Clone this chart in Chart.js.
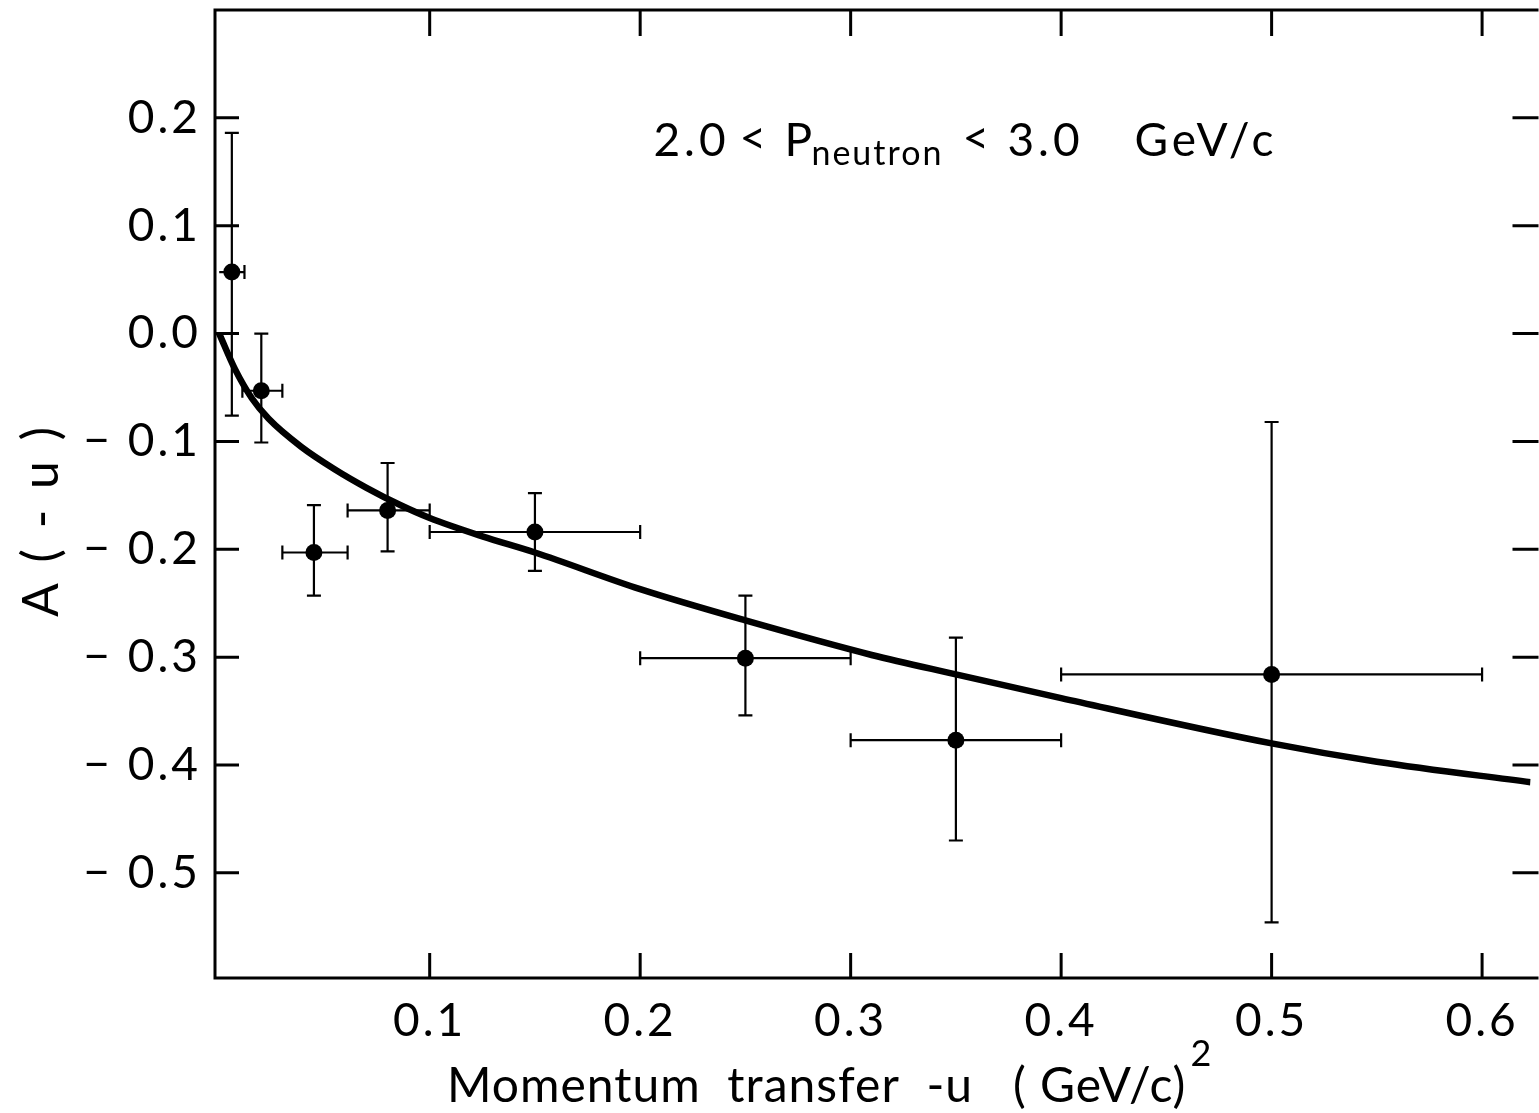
<!DOCTYPE html>
<html>
<head>
<meta charset="utf-8">
<script src="https://cdn.jsdelivr.net/npm/chart.js@4.4.0/dist/chart.umd.min.js"></script>
<style>
  html, body { margin: 0; padding: 0; background: #fff; overflow: hidden; }
  #wrap { width: 1539px; height: 1113px; }
</style>
</head>
<body>
<div id="wrap"><canvas id="myChart"></canvas></div>
<script>
// tick labels
const xTicks = [0.1, 0.2, 0.3, 0.4, 0.5, 0.6];
const yTicks = [0.2, 0.1, 0.0, -0.1, -0.2, -0.3, -0.4, -0.5];

// measured points with error bars
const uVals  = [0.006, 0.020, 0.045, 0.080, 0.150, 0.250, 0.350, 0.500];
const aVals  = [0.057, -0.053, -0.203, -0.164, -0.184, -0.301, -0.377, -0.316];
const uLow   = [0.000, 0.011, 0.030, 0.061, 0.100, 0.200, 0.300, 0.400];
const uHigh  = [0.012, 0.030, 0.061, 0.100, 0.200, 0.300, 0.400, 0.600];
const aLow   = [-0.076, -0.101, -0.243, -0.202, -0.220, -0.354, -0.470, -0.546];
const aHigh  = [0.186, 0.000, -0.159, -0.120, -0.148, -0.243, -0.282, -0.082];

// fitted curve
const fitU = [0, 0.0075, 0.0155, 0.0235, 0.039, 0.055, 0.070, 0.086, 0.100, 0.125, 0.150, 0.200, 0.250, 0.310, 0.350, 0.400, 0.500, 0.550, 0.623];
const fitA = [0, -0.033, -0.060, -0.079, -0.105, -0.126, -0.143, -0.159, -0.171, -0.188, -0.203, -0.237, -0.266, -0.298, -0.316, -0.338, -0.380, -0.397, -0.416];

const FONT = "Lato, 'DejaVu Sans', sans-serif";

function fmtY(v) {
  if (Math.abs(v) < 1e-9) return "0.0";
  if (v < 0) return "\u2212 " + Math.abs(v).toFixed(1);
  return v.toFixed(1);
}

const framePlugin = {
  id: 'frame',
  beforeUpdate(chart) {
    chart.ctx.letterSpacing = '3px';
  },
  beforeDatasetsDraw(chart) {
    const ctx = chart.ctx;
    const xs = chart.scales.x, ys = chart.scales.y;
    ctx.save();
    ctx.strokeStyle = '#000';
    ctx.lineWidth = 2.2;
    for (let i = 0; i < uVals.length; i++) {
      const px = xs.getPixelForValue(uVals[i]);
      const py = ys.getPixelForValue(aVals[i]);
      const x0 = xs.getPixelForValue(uLow[i]), x1 = xs.getPixelForValue(uHigh[i]);
      const y0 = ys.getPixelForValue(aLow[i]), y1 = ys.getPixelForValue(aHigh[i]);
      ctx.beginPath();
      ctx.moveTo(x0, py); ctx.lineTo(x1, py);
      ctx.moveTo(px, y0); ctx.lineTo(px, y1);
      // caps
      ctx.moveTo(px - 7, y0); ctx.lineTo(px + 7, y0);
      ctx.moveTo(px - 7, y1); ctx.lineTo(px + 7, y1);
      if (uLow[i] > 0) { ctx.moveTo(x0, py - 7); ctx.lineTo(x0, py + 7); }
      ctx.moveTo(x1, py - 7); ctx.lineTo(x1, py + 7);
      ctx.stroke();
    }
    ctx.restore();
  },
  afterDraw(chart) {
    const ctx = chart.ctx;
    const a = chart.chartArea;
    const xs = chart.scales.x, ys = chart.scales.y;
    ctx.save();
    ctx.strokeStyle = '#000';
    ctx.lineWidth = 3;
    ctx.beginPath();
    ctx.moveTo(a.right + 8, a.top); ctx.lineTo(a.left, a.top);
    ctx.lineTo(a.left, a.bottom); ctx.lineTo(a.right + 8, a.bottom);
    ctx.stroke();
    // inward tick marks on all four sides
    ctx.beginPath();
    xTicks.forEach(v => {
      const px = xs.getPixelForValue(v);
      ctx.moveTo(px, a.top); ctx.lineTo(px, a.top + 26);
      ctx.moveTo(px, a.bottom); ctx.lineTo(px, a.bottom - 25);
    });
    yTicks.forEach(v => {
      const py = ys.getPixelForValue(v);
      ctx.moveTo(a.left, py); ctx.lineTo(a.left + 24, py);
      ctx.moveTo(a.right + 8, py); ctx.lineTo(a.right - 18, py);
    });
    ctx.stroke();

    ctx.fillStyle = '#000';
    ctx.textBaseline = 'alphabetic';
    ctx.textAlign = 'left';
    // annotation, pieces placed from its left end
    const ax = xs.getPixelForValue(0.2063), ay = ys.getPixelForValue(0.165);
    ctx.letterSpacing = '4px';
    ctx.font = "46px " + FONT;
    ctx.fillText("2.0", ax, ay);
    ctx.fillText("<", ax + 86, ay - 2);
    ctx.fillText("P", ax + 131, ay);
    ctx.fillText("<", ax + 309, ay - 2);
    ctx.fillText("3.0", ax + 354, ay);
    ctx.fillText("GeV/c", ax + 481, ay);
    ctx.letterSpacing = '2px';
    ctx.font = "34px " + FONT;
    ctx.fillText("neutron", ax + 158, ay + 9);

    // x title
    ctx.letterSpacing = '1px';
    ctx.font = "48px " + FONT;
    const xt = "Momentum  transfer  -u   ( GeV/c)";
    ctx.fillText(xt, 447, 1102);
    const w = ctx.measureText(xt).width;
    ctx.font = "36px " + FONT;
    ctx.fillText("2", 447 + w + 4, 1066);

    // y title
    ctx.letterSpacing = '4px';
    ctx.font = "50px " + FONT;
    ctx.translate(58, 520);
    ctx.rotate(-Math.PI / 2);
    ctx.textAlign = 'center';
    ctx.fillText("A ( - u )", 0, 0);
    ctx.restore();
  }
};

const ctx = document.getElementById('myChart');
new Chart(ctx, {
  type: 'scatter',
  data: {
    datasets: [
      {
        type: 'line',
        data: fitU.map((u, i) => ({ x: u, y: fitA[i] })),
        borderColor: '#000',
        borderWidth: 6.5,
        pointRadius: 0,
        cubicInterpolationMode: 'monotone',
        fill: false
      },
      {
        data: uVals.map((u, i) => ({ x: u, y: aVals[i] })),
        backgroundColor: '#000',
        borderColor: '#000',
        pointRadius: 8.5,
        pointBorderWidth: 0
      }
    ]
  },
  options: {
    responsive: true,
    maintainAspectRatio: false,
    animation: false,
    devicePixelRatio: 1,
    layout: { padding: { top: 10, right: 0, left: 0, bottom: 0 } },
    plugins: { legend: { display: false }, tooltip: { enabled: false } },
    scales: {
      x: {
        type: 'linear',
        min: -0.002,
        max: 0.623,
        afterBuildTicks: s => { s.ticks = xTicks.map(v => ({ value: v })); },
        afterFit: s => { s.height = 135; s.paddingLeft = 0; s.paddingRight = 0; },
        grid: { display: false, drawTicks: false },
        border: { display: false },
        ticks: {
          color: '#000',
          padding: 16,
          font: { family: FONT, size: 46 },
          maxRotation: 0,
          callback: v => v.toFixed(1)
        }
      },
      y: {
        type: 'linear',
        min: -0.5975,
        max: 0.30,
        afterBuildTicks: s => { s.ticks = yTicks.map(v => ({ value: v })); },
        afterFit: s => { s.width = 215; s.paddingTop = 0; s.paddingBottom = 0; },
        grid: { display: false, drawTicks: false },
        border: { display: false },
        ticks: {
          color: '#000',
          padding: 14,
          font: { family: FONT, size: 46 },
          callback: v => fmtY(v)
        }
      }
    }
  },
  plugins: [framePlugin]
});
</script>
</body>
</html>
